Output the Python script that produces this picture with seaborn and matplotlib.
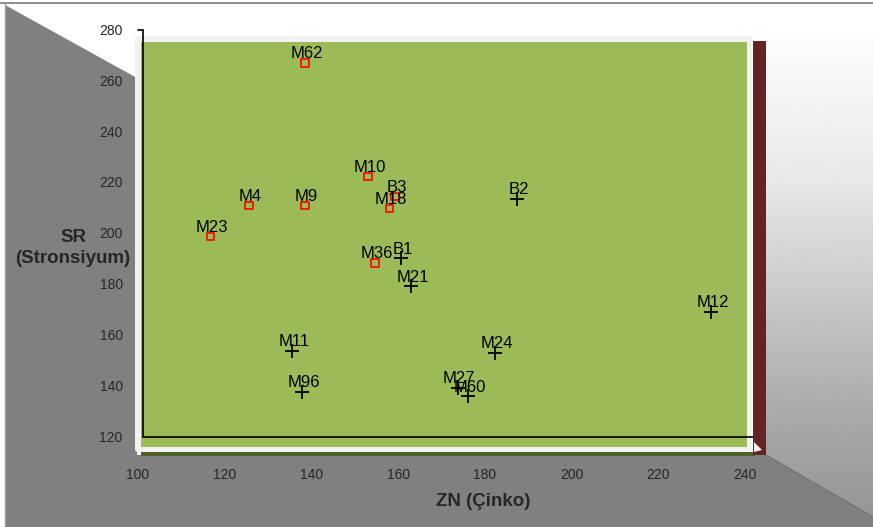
import numpy as np
import pandas as pd
import matplotlib
matplotlib.use("Agg")
import matplotlib.pyplot as plt
from matplotlib.patches import Polygon, Rectangle, FancyBboxPatch
import seaborn as sns

# Samples drawn as hollow red squares
sq_names = ["M62", "M4", "M9", "M23", "M10", "B3", "M18", "M36"]
sq_zn = [138.5, 125.6, 138.5, 116.7, 153.0, 159.3, 158.0, 154.6]
sq_sr = [266.9, 210.7, 210.7, 198.5, 222.2, 214.2, 209.5, 188.2]

# Samples drawn as black crosses
px_names = ["B1", "M21", "B2", "M12", "M11", "M24", "M96", "M27", "M60"]
px_zn = [160.6, 162.9, 187.4, 232.2, 135.6, 182.3, 137.8, 173.7, 176.1]
px_sr = [190.0, 179.0, 213.3, 168.8, 153.5, 152.7, 137.4, 138.9, 135.7]

x_ticks = [100, 120, 140, 160, 180, 200, 220, 240]
y_ticks = [120, 140, 160, 180, 200, 220, 240, 260, 280]

sns.set_style("white")
plt.rcParams["font.family"] = ["Liberation Sans", "DejaVu Sans"]

W, H = 873, 527
fig = plt.figure(figsize=(W / 100, H / 100), dpi=100)
fig.patch.set_facecolor("white")

# ---- background scenery in pixel coordinates ----
bg = fig.add_axes([0, 0, 1, 1], zorder=0)
bg.set_xlim(0, W)
bg.set_ylim(H, 0)
bg.axis("off")

# right-hand wall with vertical gradient
stops_y = [36, 180, 420, 527]
stops_v = [0.99, 0.91, 0.66, 0.58]
rows = np.interp(np.arange(36, 528), stops_y, stops_v)
grad = np.repeat(rows[:, None], 4, axis=1)
im = bg.imshow(grad, cmap="gray", vmin=0, vmax=1, extent=[766, W, 528, 36],
               aspect="auto", interpolation="bilinear", zorder=0)
rw = Polygon([(766, 36), (W, 36), (W, 517), (766, 455)], closed=True,
             transform=bg.transData, facecolor="none", edgecolor="none")
bg.add_patch(rw)
im.set_clip_path(rw)

# left wall and floor
bg.add_patch(Polygon([(5, 5), (137, 78), (137, 455), (766, 455), (W, 517),
                      (W, H), (5, H)], closed=True, facecolor="#808080",
                     edgecolor="none", zorder=1))
bg.plot([766, W], [455, 517], color="#6e6e6e", lw=0.8, zorder=2)

# outer frame lines
bg.plot([0, W], [3, 3], color="#7a7a7a", lw=1.2, zorder=2)
bg.plot([5, 5], [3, H], color="#9a9a9a", lw=1.0, zorder=2)

# plot area with light border, side bar and shadow
bg.add_patch(FancyBboxPatch((135, 36), 617, 416, boxstyle="round,pad=0,rounding_size=3",
                            facecolor="#f2f2f2", edgecolor="none", zorder=3))
bg.add_patch(Rectangle((141, 42), 606, 405, facecolor="#9bbb59",
                       edgecolor="none", zorder=4))
bg.add_patch(Rectangle((141, 452), 614, 3.5, facecolor="#4f6228",
                       edgecolor="none", zorder=4))
bg.add_patch(Rectangle((753, 41), 13, 414, facecolor="#632523",
                       edgecolor="none", zorder=4))
bg.add_patch(Polygon([(754, 442), (762, 450), (754, 452)], closed=True,
                     facecolor="#f2f2f2", edgecolor="none", zorder=5))

# axis lines
bg.plot([138, 143, 143, 753], [30, 30, 437, 437], color="black", lw=1.2,
        solid_joinstyle="miter", zorder=6)

# axis titles
bg.text(73, 248, "SR\n(Stronsiyum)", ha="center", va="center", fontsize=13.5,
        fontweight="bold", linespacing=1.3, zorder=6)
bg.text(483, 501, "ZN (Çinko)", ha="center", va="center", fontsize=13.5,
        fontweight="bold", zorder=6)

# ---- data axes ----
left, right, top, bottom = 138, 745, 29.5, 436
ax = fig.add_axes([left / W, (H - bottom) / H, (right - left) / W, (bottom - top) / H],
                  zorder=2)
ax.patch.set_alpha(0)

sq = pd.DataFrame({"name": sq_names, "zn": sq_zn, "sr": sq_sr})
px = pd.DataFrame({"name": px_names, "zn": px_zn, "sr": px_sr})

sns.scatterplot(data=sq, x="zn", y="sr", marker="s", s=30, ax=ax,
                color="red", linewidth=1.2, legend=False, zorder=5)
ax.collections[-1].set_facecolor("none")
ax.collections[-1].set_edgecolor("red")
sns.scatterplot(data=px, x="zn", y="sr", marker="+", s=90, ax=ax,
                color="black", linewidth=1.3, legend=False, zorder=5)

for df in (sq, px):
    for _, r in df.iterrows():
        ax.annotate(r["name"], (r["zn"], r["sr"]), xytext=(1.2, 6.5),
                    textcoords="offset points", ha="center", va="center",
                    fontsize=12, color="black", zorder=6)

ax.set_xlim(100, 240)
ax.set_ylim(120, 280)
ax.set_xticks(x_ticks)
ax.set_yticks(y_ticks)
ax.tick_params(axis="x", length=0, pad=23, labelsize=10)
ax.tick_params(axis="y", length=0, pad=11, labelsize=10)
ax.set_xlabel("")
ax.set_ylabel("")
ax.grid(False)
for s in ax.spines.values():
    s.set_visible(False)

fig.savefig("out.png", dpi=100)
